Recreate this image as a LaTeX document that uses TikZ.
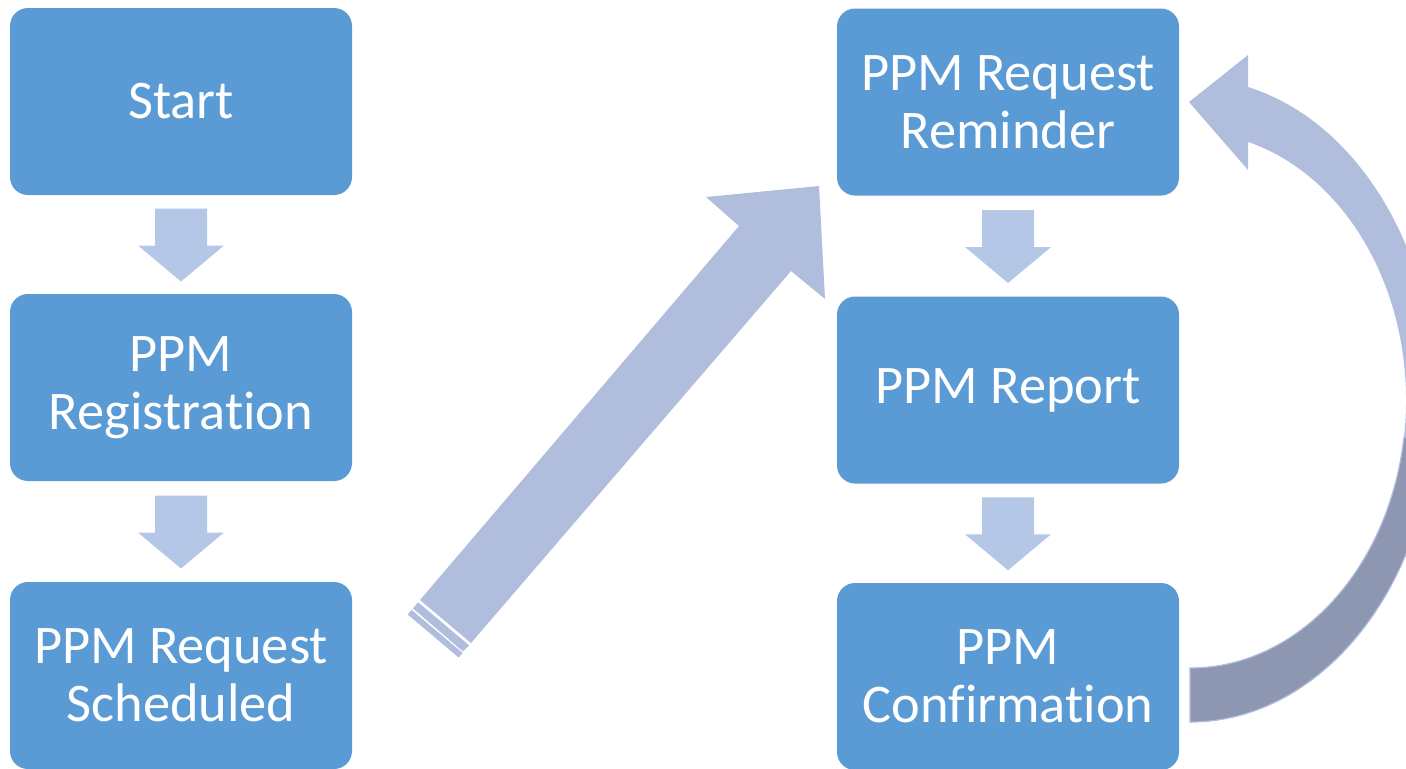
\documentclass[tikz,border=0pt]{standalone}
\usepackage{fontspec}
\setmainfont{Carlito}[Ligatures=NoCommon]
\usetikzlibrary{calc}
\definecolor{boxblue}{HTML}{5B9BD5}
\definecolor{smallarr}{HTML}{B4C7E7}
\definecolor{bigarr}{HTML}{B0BDDD}
\definecolor{backarr}{HTML}{8E97B2}
\tikzset{stepbox/.style={fill=boxblue,rounded corners=9pt,minimum width=171pt,minimum height=93.5pt,
  text=white,align=center,inner sep=0pt,font=\fontsize{27.2}{29}\selectfont}}
\begin{document}
\begin{tikzpicture}[x=0.5pt,y=-0.5pt]
		\useasboundingbox (0,0) rectangle (1406,768);
		\node[stepbox] (start) at (181,101.5) {Start};
		\node[stepbox] (reg) at (181,387.5) {PPM\\Registration};
		\node[stepbox] (sched) at (181,675.5) {PPM Request\\Scheduled};
		\node[stepbox] (remind) at (1008,102) {PPM Request\\Reminder};
		\node[stepbox] (report) at (1008,390) {PPM Report};
		\node[stepbox] (confirm) at (1008,676.5) {PPM\\Confirmation};
		\foreach \a/\b in {start/reg,reg/sched,remind/report,report/confirm}{
			\path ($(\a.south)!0.5!(\b.north)$) coordinate (mid);
			\fill[smallarr] ($(mid)+(-26,-36)$) -- ++(52,0) -- ++(0,37) -- ++(17,0) -- ++(-43,36) -- ++(-43,-36) -- ++(17,0) -- cycle;
		}
		\fill[bigarr] (420,600) -- (739,226) -- (706,197) -- (819,186) -- (825,299) -- (791,271) -- (471,643) -- cycle;
		\fill[bigarr] (418.1,602.3) -- (469.1,645.3) -- (462.9,651.4) -- (412.9,608.4) -- cycle;
		\fill[bigarr] (411.6,609.9) -- (462.6,652.9) -- (458.7,657.5) -- (407.7,614.5) -- cycle;
		\fill[bigarr] (1190,668) arc[start angle=90,end angle=-74.4,x radius=216,y radius=268] -- (1248,170) -- (1189,102) -- (1248,55) -- (1248,87) arc[start angle=-76.4,end angle=90,x radius=246,y radius=322] -- cycle;
		\filldraw[fill=backarr,draw=bigarr,line width=0.6pt] (1403.9,437.3) arc[start angle=8,end angle=90,x radius=216,y radius=268] -- (1190,722) arc[start angle=90,end angle=8,x radius=246,y radius=322] -- cycle;
\end{tikzpicture}
\end{document}
